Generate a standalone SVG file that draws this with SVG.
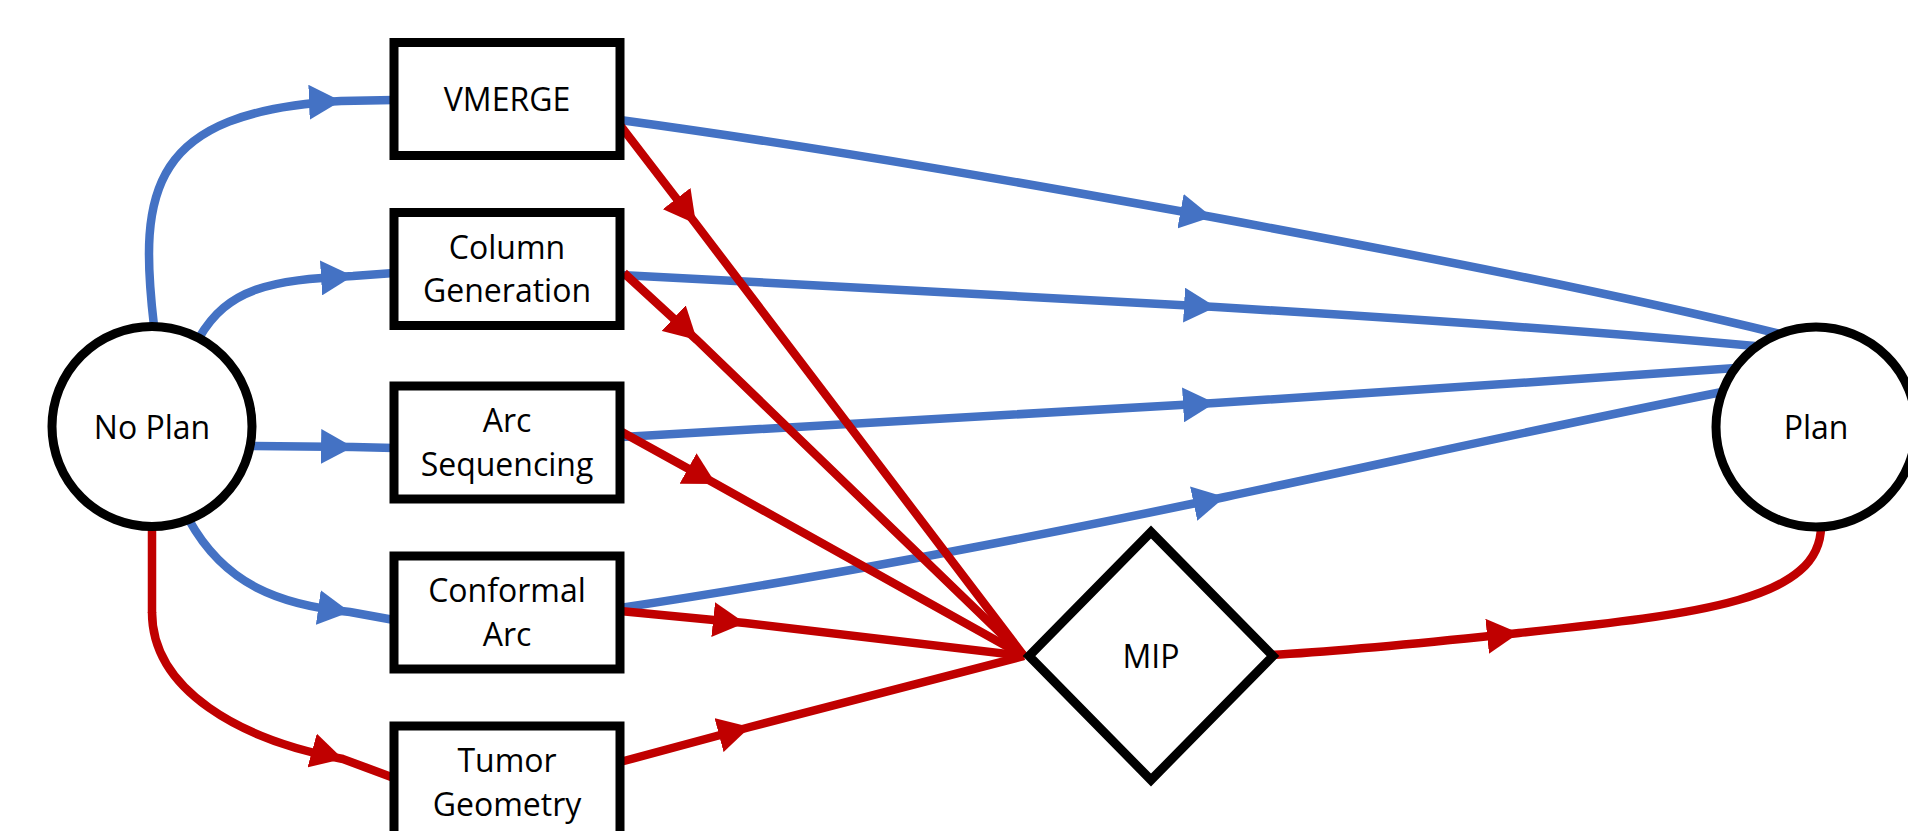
<svg xmlns="http://www.w3.org/2000/svg" width="1908" height="831" viewBox="0 0 1908 831">
<style>
.node{fill:#ffffff;stroke:#000000;stroke-width:9}
.lbl{font-family:"Open Sans","Noto Sans",sans-serif;font-size:32px;fill:#000000;text-anchor:middle}
.blue{fill:none;stroke:#4472C4;stroke-width:8.5;marker-mid:url(#ab)}
.red{fill:none;stroke:#C00000;stroke-width:8.5;marker-mid:url(#ar)}
.redplain{fill:none;stroke:#C00000;stroke-width:8.5}
</style>
<defs>
<marker id="ab" markerUnits="userSpaceOnUse" viewBox="0 0 32 35" markerWidth="32" markerHeight="35" refX="32" refY="17.5" orient="auto"><path d="M0,0 L32,17.5 L0,35 Z" fill="#4472C4"/></marker>
<marker id="ar" markerUnits="userSpaceOnUse" viewBox="0 0 32 35" markerWidth="32" markerHeight="35" refX="32" refY="17.5" orient="auto"><path d="M0,0 L32,17.5 L0,35 Z" fill="#C00000"/></marker>
</defs>
<rect width="1908" height="831" fill="#ffffff"/>
<g id="connectors">
<path class="blue" d="M154,326 C138,190 150,112 341,101 L394,100"/>
<path class="blue" d="M199,338 C228,288 270,280 353,276 L394,273"/>
<path class="blue" d="M251,446 L353,447 L394,448"/>
<path class="blue" d="M189,520 C225,585 280,605 350,612 L394,620"/>
<path class="blue" d="M620,120 C840,150 1040,186 1212,217 C1400,252 1600,290 1780,334"/>
<path class="blue" d="M620,275 C820,284 1020,296 1216,307 C1400,318 1580,330 1755,346"/>
<path class="blue" d="M620,437 C820,426 1020,414 1215,403 C1400,392 1560,380 1736,368"/>
<path class="blue" d="M620,608 C820,578 1020,540 1225,497 C1400,460 1560,424 1722,392"/>
<path class="redplain" d="M152,527 L152,613"/>
<path class="red" d="M152,612 C152,690 240,740 343,759 L394,778"/>
<path class="red" d="M620,125 L696,224 L1024,656"/>
<path class="red" d="M624,273 L697,340 L1024,656"/>
<path class="red" d="M620,431 L716,484 L1024,656"/>
<path class="red" d="M620,611 L745,623 L1024,656"/>
<path class="red" d="M620,762 L750,727 L1024,656"/>
<path class="red" d="M1270,655 C1360,650 1440,641 1519,633 C1700,614 1822,600 1821,525"/>
</g>
<g id="noplan"><circle class="node" cx="152" cy="426.5" r="100"/><text class="lbl" x="152" y="439">No Plan</text></g>
<g id="plan"><circle class="node" cx="1816" cy="427" r="100"/><text class="lbl" x="1816" y="439">Plan</text></g>
<g id="vmerge"><rect class="node" x="394" y="42.5" width="226" height="113"/><text class="lbl" x="507" y="110.5">VMERGE</text></g>
<g id="colgen"><rect class="node" x="394" y="212.5" width="226" height="113"/><text class="lbl" x="507" y="258.5">Column</text><text class="lbl" x="507" y="302">Generation</text></g>
<g id="arcseq"><rect class="node" x="394" y="386" width="226" height="113"/><text class="lbl" x="507" y="432">Arc</text><text class="lbl" x="507" y="475.5">Sequencing</text></g>
<g id="conformal"><rect class="node" x="394" y="556" width="226" height="113"/><text class="lbl" x="507" y="602">Conformal</text><text class="lbl" x="507" y="645.5">Arc</text></g>
<g id="tumor"><rect class="node" x="394" y="726" width="226" height="113"/><text class="lbl" x="507" y="772">Tumor</text><text class="lbl" x="507" y="815.5">Geometry</text></g>
<g id="mip"><polygon class="node" points="1151,532 1273,656 1151,780 1029,656"/><text class="lbl" x="1151" y="668">MIP</text></g>
</svg>
